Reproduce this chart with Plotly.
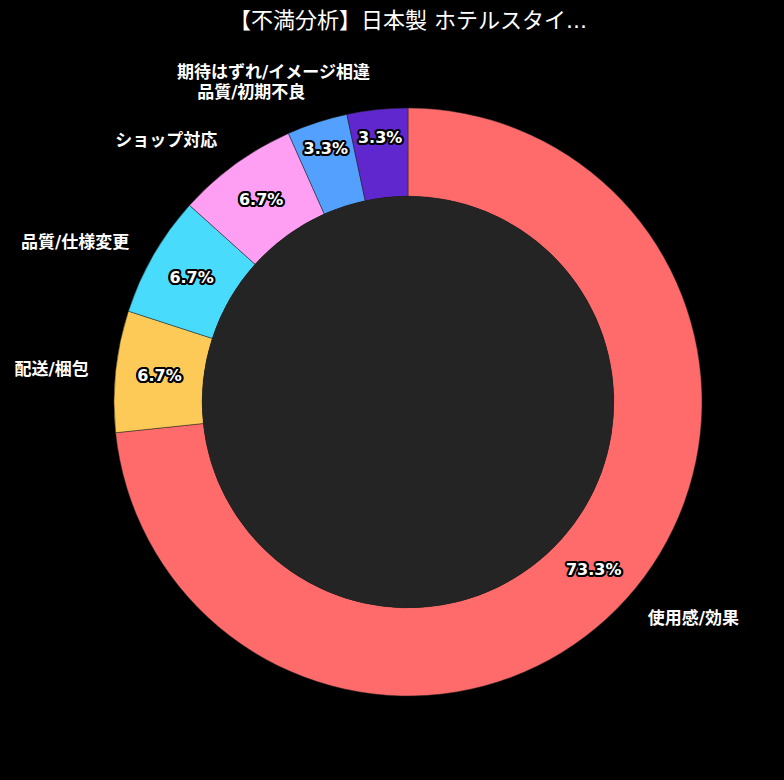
import plotly.graph_objects as go

# 不満カテゴリ別件数
categories = ["使用感/効果", "配送/梱包", "品質/仕様変更", "ショップ対応", "品質/初期不良", "期待はずれ/イメージ相違"]
counts = [22, 2, 2, 2, 1, 1]
colors = ["#ff6b6b", "#feca57", "#48dbfb", "#ff9ff3", "#54a0ff", "#5f27cd"]

title_text = "【不満分析】日本製 ホテルスタイ..."
font_family = "DejaVu Sans, Noto Sans CJK JP, sans-serif"
hole_color = "#242424"

# 文字の黒フチ
outline = ", ".join(f"{dx}px {dy}px 0 #000" for dx in (-2, -1, 0, 1, 2) for dy in (-2, -1, 0, 1, 2)
                    if (dx, dy) != (0, 0) and abs(dx) + abs(dy) <= 3)

# ドーナツは描画領域より少し小さく、ラベル用は全面
d = (1 - 588 / 632) / 2
donut_domain = dict(x=[d, 1 - d], y=[d, 1 - d])

fig = go.Figure()
# ドーナツ本体 + 内側のパーセント
fig.add_trace(go.Pie(
    labels=categories, values=counts, hole=0.7, sort=False, direction="clockwise",
    domain=donut_domain,
    marker=dict(colors=colors, line=dict(color="#242424", width=0.5)),
    texttemplate="%{percent:.1%}", textposition="inside",
    textfont=dict(family=font_family, size=16, color="white", weight="bold", shadow=outline),
    showlegend=False,
))
# 外側のラベル用 (透明)
fig.add_trace(go.Pie(
    labels=categories, values=counts, hole=0.7, sort=False, direction="clockwise",
    marker=dict(colors=["rgba(0,0,0,0)"] * len(categories)),
    textinfo="label", textposition="outside",
    textfont=dict(family=font_family, size=17, color=["white"] * len(categories), weight="bold"),
    hoverinfo="skip", showlegend=False,
))

fig.update_layout(
    width=784, height=780,
    paper_bgcolor="#000000", plot_bgcolor="#000000",
    margin=dict(l=92, r=60, t=86, b=62),
    title=dict(text=title_text, x=0.5, xref="paper", xanchor="center",
               y=1 - 20 / 780, yanchor="middle",
               font=dict(family=font_family, size=22, color="white")),
    shapes=[dict(type="circle", xref="paper", yref="paper", layer="above",
                 x0=0.5 - 0.7 * 294 / 632, x1=0.5 + 0.7 * 294 / 632,
                 y0=0.5 - 0.7 * 294 / 632, y1=0.5 + 0.7 * 294 / 632,
                 fillcolor=hole_color, line=dict(width=0))],
)

fig.write_html("out.html", config={"displayModeBar": False},
               post_script="document.body.style.margin='0';document.body.style.background='#000';")
